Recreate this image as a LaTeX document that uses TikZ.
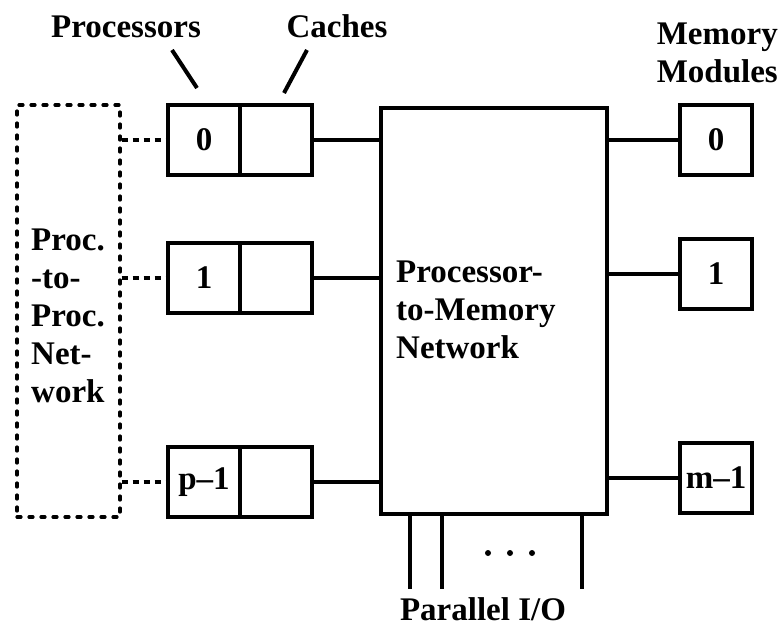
\documentclass[tikz,border=0pt]{standalone}
\usepackage{fontspec}
\setmainfont{Liberation Serif}
\begin{document}
\begin{tikzpicture}[x=1pt,y=-1pt,
  every node/.style={font=\fontsize{33}{38}\selectfont\bfseries},
  box/.style={draw,line width=3.8pt,inner sep=0pt,minimum width=72pt,minimum height=70pt},
  netbox/.style={draw,line width=3.8pt,inner sep=0pt,minimum width=226pt,minimum height=406pt},
  dotbox/.style={draw,line width=3.2pt,dash pattern=on 4pt off 8pt,line cap=round,inner sep=0pt,minimum width=103pt,minimum height=412pt},
  wire/.style={line width=3.4pt},
  dotwire/.style={line width=3.2pt,dash pattern=on 6pt off 5pt},
  lbl/.style={inner sep=0pt,anchor=base}]
\useasboundingbox (0,0) rectangle (782,633);
% processor-to-processor network
\node[dotbox] (ppn) at (68.5,311) {};
\node[lbl,anchor=base west,align=left] (ppnt) at (31,402) {Proc.\\-to-\\Proc.\\Net-\\work};
% processors and caches
\node[box] (p0) at (204,140) {0};
\node[box] (c0) at (276,140) {};
\node[box] (p1) at (204,278) {1};
\node[box] (c1) at (276,278) {};
\node[box] (pp) at (204,482) {p--1};
\node[box] (cp) at (276,482) {};
% network
\node[netbox] (net) at (494,311) {};
\node[lbl,anchor=base west,align=left] (nett) at (396,358) {Processor-\\to-Memory\\Network};
% memory modules
\node[box] (m0) at (716,140) {0};
\node[box] (m1) at (716,274) {1};
\node[box] (mm) at (716,478) {m--1};
% labels
\node[lbl] (lproc) at (126,37) {Processors};
\node[lbl] (lcache) at (337,37) {Caches};
\node[lbl,anchor=base east,align=center] (lmem) at (778,82) {Memory\\Modules};
\node[lbl] (lio) at (483,620) {Parallel I/O};
% pointer lines
\coordinate (pa) at (172,50);
\coordinate (pb) at (197,88);
\coordinate (ca) at (307,50);
\coordinate (cb) at (284,93);
\draw[line width=4pt] (pa) -- (pb);
\draw[line width=4pt] (ca) -- (cb);
% dashed connectors
\draw[dotwire] (ppn.east |- p0.west) -- (p0.west);
\draw[dotwire] (ppn.east |- p1.west) -- (p1.west);
\draw[dotwire] (ppn.east |- pp.west) -- (pp.west);
% cache to network
\draw[wire] (c0.east) -- (c0.east -| net.west);
\draw[wire] (c1.east) -- (c1.east -| net.west);
\draw[wire] (cp.east) -- (cp.east -| net.west);
% network to memory
\draw[wire] (m0.west -| net.east) -- (m0.west);
\draw[wire] (m1.west -| net.east) -- (m1.west);
\draw[wire] (mm.west -| net.east) -- (mm.west);
% parallel I/O
\coordinate (io1) at (410,589);
\coordinate (io2) at (442,589);
\coordinate (io3) at (582,589);
\draw[line width=4pt] (io1 |- net.south) -- (io1);
\draw[line width=4pt] (io2 |- net.south) -- (io2);
\draw[line width=4pt] (io3 |- net.south) -- (io3);
\node[circle,fill,inner sep=0pt,minimum size=6pt] (d1) at (488,553) {};
\node[circle,fill,inner sep=0pt,minimum size=6pt] (d2) at (510,553) {};
\node[circle,fill,inner sep=0pt,minimum size=6pt] (d3) at (532,553) {};
\end{tikzpicture}
\end{document}
